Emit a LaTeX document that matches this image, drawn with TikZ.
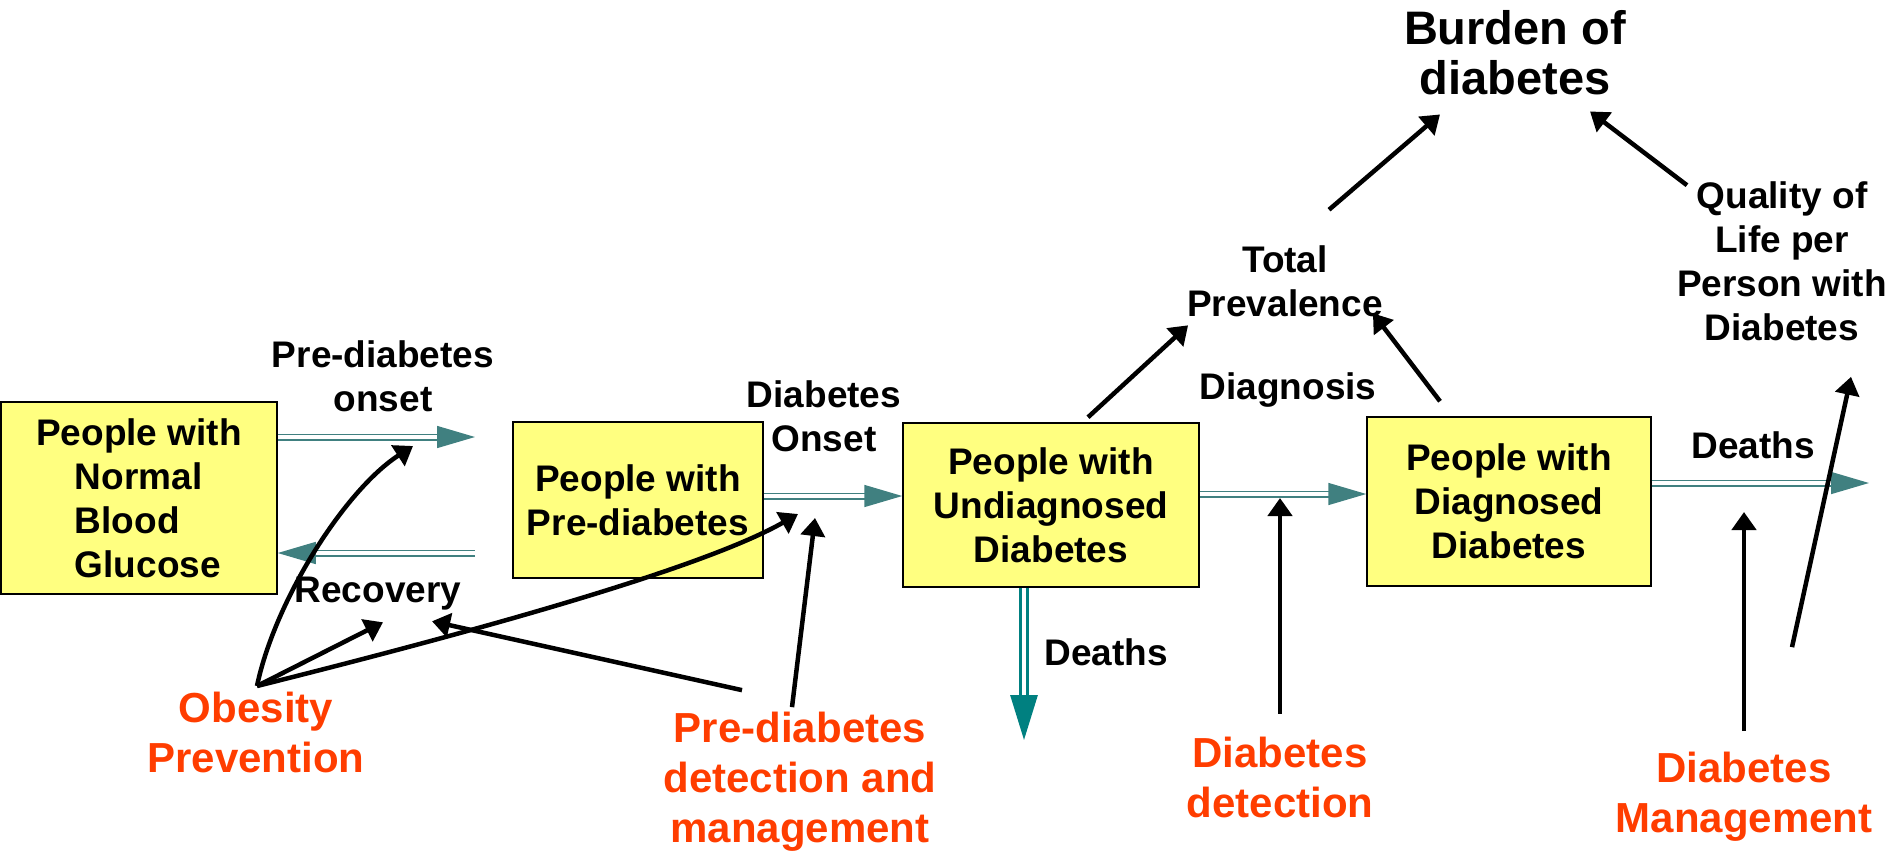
\documentclass[tikz,border=0pt]{standalone}
\usepackage{fontspec}
\setmainfont{Liberation Sans}
\usetikzlibrary{arrows.meta,calc}

\definecolor{boxyellow}{RGB}{255,255,128}
\definecolor{flowteal}{RGB}{64,128,128}
\definecolor{deathteal}{RGB}{0,128,128}
\definecolor{policyred}{RGB}{255,61,0}

\newcommand{\stockline}[1]{\hspace*{18pt}\makebox[3.95em][l]{#1}}

\tikzset{
	stock/.style={draw=black, line width=1.5pt, fill=boxyellow, align=center, inner sep=0pt,
		font=\fontsize{37}{44}\selectfont\bfseries},
	lbl/.style={align=center, inner sep=0pt, font=\fontsize{37}{44}\selectfont\bfseries},
	policy/.style={align=center, inner sep=0pt, text=policyred, font=\fontsize{42}{50}\selectfont\bfseries},
	flow/.style={draw=flowteal, line width=1.5pt, double=white, double distance=4pt,
		-{Triangle[length=38pt,width=22pt]}},
	flowdown/.style={draw=deathteal, line width=3pt, double=white, double distance=3.5pt,
		-{Triangle[length=45pt,width=27pt]}},
	infl/.style={draw=black, line width=4.5pt, -{Triangle[length=18pt,width=24pt]}},
}

\begin{document}
\begin{tikzpicture}[x=1pt, y=-1pt]
		\useasboundingbox (0,0) rectangle (1897,855);
		
		\node[stock, minimum width=276pt, minimum height=192pt] (normal) at (139,498)
			{People with\\\stockline{Normal}\\\stockline{Blood}\\\stockline{Glucose}};
		\node[stock, minimum width=250pt, minimum height=156pt] (prediab) at (638,500)
			{People with\\Pre-diabetes};
		\node[stock, minimum width=296pt, minimum height=164pt] (undiag) at (1051,505)
			{People with\\Undiagnosed\\Diabetes};
		\node[stock, minimum width=284pt, minimum height=169pt] (diag) at (1509,501.5)
			{People with\\Diagnosed\\Diabetes};
		
		\node[lbl] (lonset) at (383,376.5) {Pre-diabetes\\onset};
		\node[lbl] (lrecov) at (378,593.5) {Recovery};
		\node[lbl] (ldonset) at (824,416) {Diabetes\\Onset};
		\node[lbl] (ldeathsd) at (1106,652.5) {Deaths};
		\node[lbl] (ldiag) at (1288,390.5) {Diagnosis};
		\node[lbl] (ltotal) at (1285,281.5) {Total\\Prevalence};
		\node[lbl, font=\fontsize{47}{50}\selectfont\bfseries] (lburden) at (1515,53) {Burden of\\diabetes};
		\node[lbl] (lquality) at (1782,261)
			{Quality of\\Life per\\Person with\\Diabetes};
		\node[lbl] (ldeathsr) at (1753,445.5) {Deaths};
		
		\node[policy] (obesity) at (256,732) {Obesity\\Prevention};
		\node[policy] (pdetect) at (800,782) {Pre-diabetes\\detection and\\management};
		\node[policy] (ddetect) at (1280,777.5) {Diabetes\\detection};
		\node[policy] (dmanage) at (1744,797) {Diabetes\\Management};
		
		\coordinate (onsetend) at (475,437);
		\coordinate (recstart) at (475,553);
		\coordinate (donset) at (830,496);
		\coordinate (dgs) at (1280,494);
		\coordinate (outd) at (1869,483);
		\coordinate (outu) at (1024,740);
		\coordinate (obs) at (257,686);
		
		\draw[flow] (normal.east |- onsetend) -- (onsetend);
		\draw[flow] (recstart) -- (normal.east |- recstart);
		\draw[flow] (prediab.east |- donset) -- (undiag.west |- donset);
		\draw[flow] (undiag.east |- dgs) -- (diag.west |- dgs);
		\draw[flow] (diag.east |- outd) -- (outd);
		\draw[flowdown] (undiag.south -| outu) -- (outu);
		
		\draw[infl] (obs) .. controls (275,600) and (345,490) .. ($(onsetend)+(-62,9)$);
		\draw[infl] (obs) -- ($(lrecov.south)+(5,12)$);
		\draw[infl] (obs) .. controls (457,636) and (700,570) .. ($(donset)+(-32,18)$);
		\draw[infl] ($(pdetect.north)+(-58,-22)$) -- ($(lrecov.south)+(54,11)$);
		\draw[infl] ($(pdetect.north)+(-8,-5)$) -- ($(donset)+(-15,22)$);
		\draw[infl] ($(ddetect.north)+(0,-23)$) -- ($(dgs)+(0,4)$);
		\draw[infl] ($(dmanage.north)+(0,-21)$) -- ($(outd)+(-125,29)$);
		\draw[infl] ($(dmanage.north)+(48,-105)$) -- ($(lquality.south)+(69,36)$);
		\draw[infl] ($(undiag.north)+(37,-5)$) -- ($(ltotal.south west)+(1,8)$);
		\draw[infl] ($(diag.north)+(-69,-15)$) -- ($(ltotal.south east)+(-10,-4)$);
		\draw[infl] ($(ltotal.north)+(44,-36)$) -- ($(lburden.south)+(-75,19)$);
		\draw[infl] ($(lquality.north west)+(10,4)$) -- ($(lburden.south)+(75,16)$);
	\end{tikzpicture}
\end{document}
